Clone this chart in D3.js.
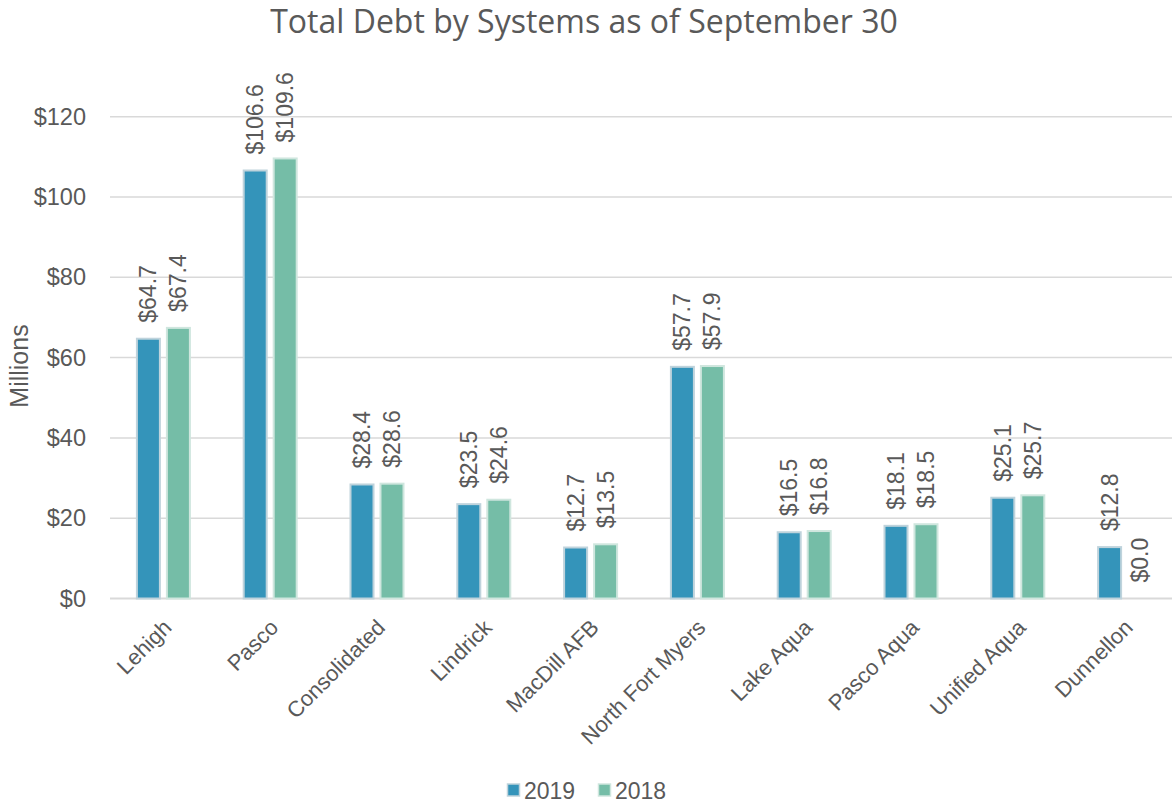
<!DOCTYPE html>
<html>
<head>
<meta charset="utf-8">
<script src="https://cdn.jsdelivr.net/npm/d3@7"></script>
<style>
  body { margin: 0; background: #fff; }
  svg text { fill: #595959; }
</style>
</head>
<body>
<svg id="chart" width="1172" height="803"></svg>
<script>
// chart data
var categories = ['Lehigh', 'Pasco', 'Consolidated', 'Lindrick', 'MacDill AFB',
  'North Fort Myers', 'Lake Aqua', 'Pasco Aqua', 'Unified Aqua', 'Dunnellon'];
var seriesNames = ['2019', '2018'];
var values2019 = [64.7, 106.6, 28.4, 23.5, 12.7, 57.7, 16.5, 18.1, 25.1, 12.8];
var values2018 = [67.4, 109.6, 28.6, 24.6, 13.5, 57.9, 16.8, 18.5, 25.7, 0.0];
var yTicks = [0, 20, 40, 60, 80, 100, 120];

var colors = {'2019': '#3494ba', '2018': '#75bda7'};
var strokes = {'2019': '#bfd3dc', '2018': '#cfe6de'};

var svg = d3.select('#chart');
var width = 1172, height = 803;
var plotLeft = 110;

// the plot area runs a little past the right edge of the picture
var x = d3.scaleBand()
  .domain(categories)
  .range([plotLeft, plotLeft + 1068]);

var xInner = d3.scaleBand()
  .domain(seriesNames)
  .range([0, x.bandwidth()])
  .paddingInner(0.233)
  .paddingOuter(0.897);

var y = d3.scaleLinear()
  .domain([0, 120])
  .range([598.5, 116.7]);

var labelFont = 'Liberation Sans, Arial, sans-serif';

// gridlines
svg.append('g')
  .selectAll('line')
  .data(yTicks)
  .join('line')
  .attr('x1', plotLeft)
  .attr('x2', width)
  .attr('y1', function(d) { return y(d); })
  .attr('y2', function(d) { return y(d); })
  .attr('stroke', '#d9d9d9')
  .attr('stroke-width', function(d) { return d === 0 ? 2 : 1.5; });

// y axis labels
var yAxis = d3.axisLeft(y).tickValues(yTicks).tickSize(0).tickPadding(24)
  .tickFormat(function(d) { return '$' + d; });
var gy = svg.append('g').attr('transform', 'translate(' + plotLeft + ',0)').call(yAxis);
gy.select('.domain').remove();
gy.selectAll('text')
  .style('font-family', labelFont)
  .style('font-size', '23.5px')
  .attr('fill', '#595959');

// x axis labels
var xAxis = d3.axisBottom(x).tickSize(0).tickPadding(0);
var gx = svg.append('g').attr('transform', 'translate(0,' + y(0) + ')').call(xAxis);
gx.select('.domain').remove();
gx.selectAll('text')
  .style('font-family', labelFont)
  .style('font-size', '22px')
  .attr('fill', '#595959')
  .attr('text-anchor', 'end')
  .attr('dy', '0.35em')
  .attr('transform', 'translate(4,25) rotate(-45)');

// bars
var rows = categories.map(function(c, i) {
  return {cat: c, vals: [{s: '2019', v: values2019[i]}, {s: '2018', v: values2018[i]}]};
});

var groups = svg.append('g')
  .selectAll('g')
  .data(rows)
  .join('g')
  .attr('transform', function(d) { return 'translate(' + x(d.cat) + ',0)'; });

groups.selectAll('rect')
  .data(function(d) { return d.vals.filter(function(v) { return v.v > 0; }); })
  .join('rect')
  .attr('x', function(d) { return xInner(d.s); })
  .attr('width', xInner.bandwidth())
  .attr('y', function(d) { return y(d.v); })
  .attr('height', function(d) { return y(0) - y(d.v); })
  .attr('fill', function(d) { return colors[d.s]; })
  .attr('stroke', function(d) { return strokes[d.s]; })
  .attr('stroke-width', 2);

// data labels, rotated above each bar
groups.selectAll('text')
  .data(function(d) { return d.vals; })
  .join('text')
  .attr('transform', function(d) {
    return 'translate(' + (xInner(d.s) + xInner.bandwidth() / 2) + ',' + (y(d.v) - 16) + ') rotate(-90)';
  })
  .attr('dy', '0.35em')
  .attr('text-anchor', 'start')
  .style('font-family', labelFont)
  .style('font-size', '23px')
  .attr('fill', '#404040')
  .text(function(d) { return '$' + d.v.toFixed(1); });

// title
svg.append('text')
  .attr('x', 584)
  .attr('y', 33)
  .attr('text-anchor', 'middle')
  .style('font-family', 'Open Sans, sans-serif')
  .style('font-size', '32px')
  .attr('fill', '#595959')
  .text('Total Debt by Systems as of September 30');

// y axis title
svg.append('text')
  .attr('transform', 'translate(28,366) rotate(-90)')
  .attr('text-anchor', 'middle')
  .style('font-family', labelFont)
  .style('font-size', '25px')
  .attr('fill', '#595959')
  .text('Millions');

// legend
var legend = svg.append('g').attr('transform', 'translate(507,790.5)');
var legendX = [0, 91];
seriesNames.forEach(function(s, i) {
  var item = legend.append('g').attr('transform', 'translate(' + legendX[i] + ',0)');
  item.append('rect')
    .attr('x', 0.5).attr('y', -6.5)
    .attr('width', 12).attr('height', 12)
    .attr('fill', colors[s])
    .attr('stroke', strokes[s])
    .attr('stroke-width', 1.5);
  item.append('text')
    .attr('x', 17)
    .attr('dy', '0.35em')
    .style('font-family', labelFont)
    .style('font-size', '23px')
    .attr('fill', '#595959')
    .text(s);
});
</script>
</body>
</html>
